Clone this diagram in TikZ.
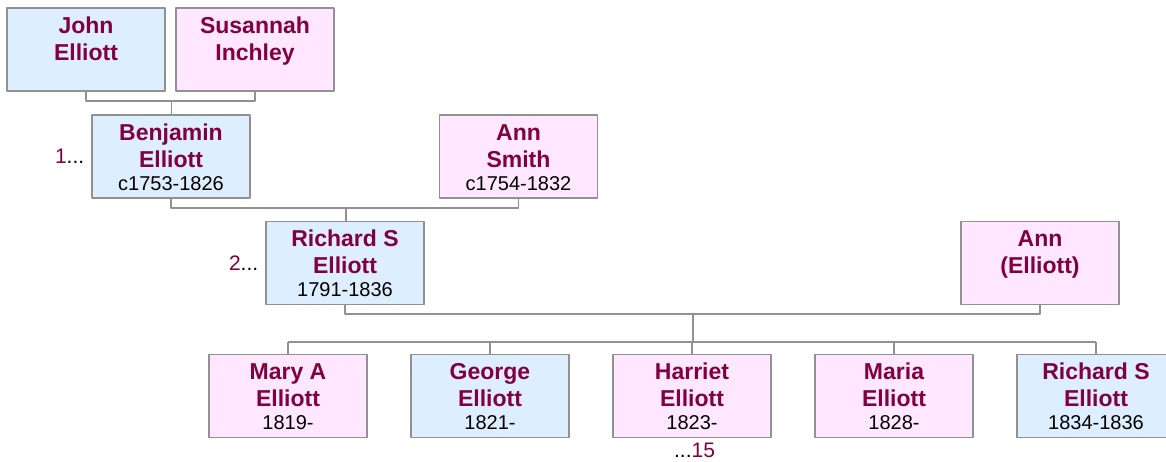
\documentclass[tikz,border=0pt]{standalone}
\usepackage{fontspec}
\setmainfont{Liberation Sans}
\usetikzlibrary{positioning}
\definecolor{namered}{RGB}{128,0,64}
\definecolor{boxblue}{RGB}{221,238,255}
\definecolor{boxpink}{RGB}{255,232,255}
\definecolor{linegray}{RGB}{145,145,145}
\newcommand{\namefont}{\fontsize{23}{27}\selectfont\bfseries\color{namered}}
\newcommand{\datefont}{\fontsize{20}{23}\selectfont\color{black}}
\newcommand{\pers}[2]{\parbox[c][83pt][t]{158pt}{\setlength{\parskip}{0pt}\centering
  {\namefont\rule{0pt}{25pt}#1\par}{\datefont #2\par}}}
\tikzset{
  male/.style={draw=linegray,line width=1.2pt,fill=boxblue,inner sep=0pt},
  female/.style={draw=linegray,line width=1.2pt,fill=boxpink,inner sep=0pt},
  link/.style={draw=linegray,line width=1.5pt},
  gen/.style={inner sep=0pt,font=\fontsize{21}{24}\selectfont}
}
\begin{document}
\begin{tikzpicture}[x=1pt,y=-1pt,line join=round]
			\clip (0,0) rectangle (1166,461);
			\fill[white] (0,0) rectangle (1166,461);
			
			% grandparents
			\node[male] (john) at (86,49.5) {\pers{John\\Elliott}{}};
			\node[female] (susannah) at (255,49.5) {\pers{Susannah\\Inchley}{}};
			
			% parents
			\node[male] (benjamin) at (171,156.5) {\pers{Benjamin\\Elliott}{c1753-1826}};
			\node[female] (annsmith) at (518.5,156.5) {\pers{Ann\\Smith}{c1754-1832}};
			
			\node[male] (richard) at (345,263) {\pers{Richard S\\Elliott}{1791-1836}};
			\node[female] (annelliott) at (1040,263) {\pers{Ann\\(Elliott)}{}};
			
			% children
			\node[female] (mary) at (288,396) {\pers{Mary A\\Elliott}{1819-}};
			\node[male] (george) at (490,396) {\pers{George\\Elliott}{1821-}};
			\node[female] (harriet) at (692,396) {\pers{Harriet\\Elliott}{1823-}};
			\node[female] (maria) at (894,396) {\pers{Maria\\Elliott}{1828-}};
			\node[male] (richardjr) at (1096,396) {\pers{Richard S\\Elliott}{1834-1836}};
			
			\coordinate (js) at (171.5,101);
			\coordinate (ba) at (346,208);
			\coordinate (ra) at (693,314);
			\coordinate (kids) at (693,342);
			
			\draw[link] (john.south) |- (js) -| (susannah.south);
			\draw[link] (js) -- (js |- benjamin.north);
			\draw[link] (benjamin.south) |- (ba) -| (annsmith.south);
			\draw[link] (ba) -- (ba |- richard.north);
			\draw[link] (richard.south) |- (ra) -| (annelliott.south);
			\draw[link] (ra) -- (kids);
			\draw[link] (mary.north |- kids) -- (richardjr.north |- kids);
			\foreach \c in {mary,george,harriet,maria,richardjr}
			\draw[link] (\c.north |- kids) -- (\c.north);
			
			\node[gen,left=7pt of benjamin] (gen1) {\textcolor{namered}{1}...};
			\node[gen,left=7pt of richard] (gen2) {\textcolor{namered}{2}...};
			\node[gen,below=4.5pt of harriet,xshift=2.5pt] (gen15) {...\textcolor{namered}{15}};
\end{tikzpicture}
\end{document}
